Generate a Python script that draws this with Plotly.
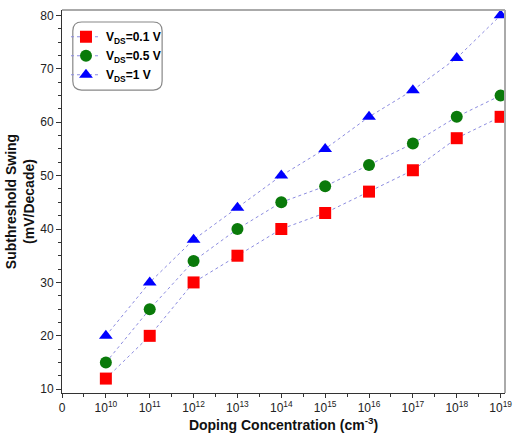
import plotly.graph_objects as go

x_idx = [1, 2, 3, 4, 5, 6, 7, 8, 9, 10]
tick_vals = [0, 1, 2, 3, 4, 5, 6, 7, 8, 9, 10]
tick_text = ["0"] + [f"10<sup>{e}</sup>" for e in range(10, 20)]

vds_01 = [12, 20, 30, 35, 40, 43, 47, 51, 57, 61]
vds_05 = [15, 25, 34, 40, 45, 48, 52, 56, 61, 65]
vds_1 = [20, 30, 38, 44, 50, 55, 61, 66, 72, 80]

line_style = dict(color="#8c8ce0", width=1, dash="dot")

fig = go.Figure()
fig.add_trace(go.Scatter(x=x_idx, y=vds_01, mode="lines+markers", name="<b>V<sub>DS</sub>=0.1 V</b>",
                         line=line_style,
                         marker=dict(symbol="square", size=12, color="#ff0000")))
fig.add_trace(go.Scatter(x=x_idx, y=vds_05, mode="lines+markers", name="<b>V<sub>DS</sub>=0.5 V</b>",
                         line=line_style,
                         marker=dict(symbol="circle", size=12, color="#0a7a0a")))
fig.add_trace(go.Scatter(x=x_idx, y=vds_1, mode="lines+markers", name="<b>V<sub>DS</sub>=1 V</b>",
                         line=line_style,
                         marker=dict(symbol="triangle-up", size=12, color="#0000ff")))

tick_font = dict(family="Liberation Sans Narrow, Arial Narrow, Liberation Sans, Arial", size=12, color="#222")

fig.update_layout(
    width=516, height=435,
    margin=dict(l=62, r=4, t=10, b=42),
    plot_bgcolor="white", paper_bgcolor="white",
    showlegend=True,
    legend=dict(x=0.009, y=0.968, xanchor="left", yanchor="top",
                borderwidth=0, bgcolor="rgba(0,0,0,0)",
                font=dict(family="Liberation Sans Narrow, Arial Narrow, Liberation Sans, Arial", size=12, color="#000"),
                tracegroupgap=0, itemwidth=30),
    xaxis=dict(range=[0, 10.1], tickvals=tick_vals, ticktext=tick_text,
               showgrid=False, zeroline=False, showline=True, linecolor="#333", linewidth=1,
               ticks="outside", ticklen=4, tickcolor="#333", ticklabeloverflow="allow",
               minor=dict(dtick=0.5, tick0=0, ticks="outside", ticklen=3, tickcolor="#333"),
               tickfont=tick_font, mirror=False,
               title=dict(text="<b>Doping Concentration (cm<sup>-3</sup>)</b>", standoff=4,
                          font=dict(family="Liberation Sans, Arial", size=14, color="#111"))),
    yaxis=dict(range=[9.3, 81], tickvals=[10, 20, 30, 40, 50, 60, 70, 80],
               showgrid=False, zeroline=False, showline=True, linecolor="#333", linewidth=1,
               ticks="outside", ticklen=5, tickcolor="#333",
               minor=dict(dtick=2.5, tick0=0, ticks="outside", ticklen=3, tickcolor="#333"),
               tickfont=tick_font,
               title=dict(text="<b>Subthreshold Swing<br>(mV/Decade)</b>", standoff=2,
                          font=dict(family="Liberation Sans, Arial", size=14, color="#111"))),
)

# light gray frame on top and right
fig.add_shape(type="line", xref="paper", yref="paper", x0=0, x1=1, y0=1, y1=1,
              line=dict(color="#aaa", width=2))
fig.add_shape(type="line", xref="paper", yref="paper", x0=1, x1=1, y0=0, y1=1,
              line=dict(color="#aaa", width=2))

# rounded legend box
x0, x1, y0, y1 = 0.0244, 0.226, 0.791, 0.9687
rx, ry = 9 / 450, 9 / 383
path = (f"M {x0+rx},{y1} L {x1-rx},{y1} Q {x1},{y1} {x1},{y1-ry} "
        f"L {x1},{y0+ry} Q {x1},{y0} {x1-rx},{y0} L {x0+rx},{y0} "
        f"Q {x0},{y0} {x0},{y0+ry} L {x0},{y1-ry} Q {x0},{y1} {x0+rx},{y1} Z")
fig.add_shape(type="path", xref="paper", yref="paper", path=path,
              line=dict(color="#888", width=1.2), fillcolor="rgba(0,0,0,0)", layer="below")

fig.write_html("out.html")
